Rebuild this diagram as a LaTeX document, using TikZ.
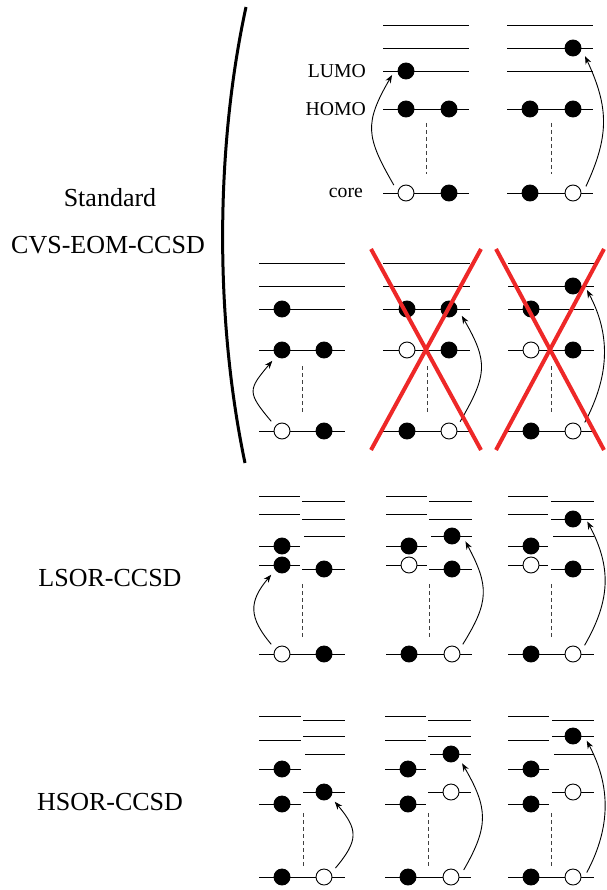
\documentclass[tikz,border=0pt]{standalone}
\usepackage{fontspec}
\setmainfont{Liberation Serif}
\usetikzlibrary{arrows.meta}
\definecolor{xred}{RGB}{238,40,40}
\begin{document}
\begin{tikzpicture}[x=1pt,y=1pt]
        \tikzset{el/.style={circle,draw=black,fill=black,line width=0.9pt,minimum size=16pt,inner sep=0pt,outer sep=6.5pt},
          ho/.style={el,fill=white},
          lv/.style={black,line width=0.9pt},
          dsh/.style={black!75,line width=0.8pt,dash pattern=on 4pt off 3pt},
          ex/.style={-{Stealth[length=8pt,width=6pt]},line width=0.9pt},
          xout/.style={xred,line width=4pt},
          lab/.style={inner sep=0pt,font=\fontsize{26}{30}\selectfont},
          slab/.style={inner sep=0pt,anchor=east,font=\fontsize{19.7}{22}\selectfont}}
        \useasboundingbox (0,0) rectangle (606,-890);
        % labels and bracket
        \node[lab] (std) at (110,-198) {Standard};
        \node[lab] (cvs) at (108,-245) {CVS-EOM-CCSD};
        \node[lab] (lsor) at (110,-578) {LSOR-CCSD};
        \node[lab] (hsor) at (110,-802) {HSOR-CCSD};
        \draw [black,line width=3pt] (246,-7) .. controls (215,-150) and (215,-320) .. (245,-463);
        \node[slab] (lumo) at (366,-71) {LUMO};
        \node[slab] (homo) at (366,-109) {HOMO};
        \node[slab] (core) at (363,-193) {core};
        % standard, row 1
        \draw [lv] (383,-25) -- (469,-25);
        \draw [lv] (383,-48) -- (469,-48);
        \draw [lv] (383,-71) -- (469,-71);
        \draw [lv] (383,-109) -- (469,-109);
        \draw [lv] (383,-193) -- (469,-193);
        \draw [dsh] (426,-123) -- (426,-174);
        \node[el] (a1) at (406,-71) {};
        \node[el] (a2) at (406,-109) {};
        \node[el] (a3) at (449,-109) {};
        \node[ho] (a4) at (406,-193) {};
        \node[el] (a5) at (449,-193) {};
        \draw [ex] (a4.147) to[out=120,in=240,looseness=1.3] (a1.196);
        \draw [lv] (507,-25) -- (593,-25);
        \draw [lv] (507,-48) -- (593,-48);
        \draw [lv] (507,-71) -- (593,-71);
        \draw [lv] (507,-109) -- (593,-109);
        \draw [lv] (507,-193) -- (593,-193);
        \draw [dsh] (551,-123) -- (551,-174);
        \node[el] (b1) at (573,-48) {};
        \node[el] (b2) at (530,-109) {};
        \node[el] (b3) at (573,-109) {};
        \node[el] (b4) at (530,-193) {};
        \node[ho] (b5) at (573,-193) {};
        \draw [ex] (b5.27) to[out=65,in=-65,looseness=1.1] (b1.-34);
        % standard, row 2
        \draw [lv] (259,-263) -- (345,-263);
        \draw [lv] (259,-286) -- (345,-286);
        \draw [lv] (259,-309) -- (345,-309);
        \draw [lv] (259,-350) -- (345,-350);
        \draw [lv] (259,-431) -- (345,-431);
        \draw [dsh] (302,-366) -- (302,-413);
        \node[el] (c1) at (282,-309) {};
        \node[el] (c2) at (282,-350) {};
        \node[el] (c3) at (324,-350) {};
        \node[ho] (c4) at (282,-431) {};
        \node[el] (c5) at (324,-431) {};
        \draw [ex] (c4.138) to[out=130,in=230,looseness=1.6] (c2.228);
        \draw [lv] (383,-263) -- (470,-263);
        \draw [lv] (383,-286) -- (470,-286);
        \draw [lv] (383,-309) -- (470,-309);
        \draw [lv] (383,-350) -- (470,-350);
        \draw [lv] (383,-431) -- (470,-431);
        \draw [dsh] (427,-366) -- (427,-413);
        \node[el] (d1) at (407,-309) {};
        \node[el] (d2) at (449,-309) {};
        \node[ho] (d3) at (407,-350) {};
        \node[el] (d4) at (449,-350) {};
        \node[el] (d5) at (407,-431) {};
        \node[ho] (d6) at (449,-431) {};
        \draw [ex] (d6.40) to[out=60,in=-60,looseness=1.3] (d2.-28);
        \draw [lv] (508,-263) -- (594,-263);
        \draw [lv] (508,-286) -- (594,-286);
        \draw [lv] (508,-309) -- (594,-309);
        \draw [lv] (508,-350) -- (594,-350);
        \draw [lv] (508,-431) -- (594,-431);
        \draw [dsh] (551,-366) -- (551,-413);
        \node[el] (e1) at (573,-286) {};
        \node[el] (e2) at (531,-309) {};
        \node[ho] (e3) at (531,-350) {};
        \node[el] (e4) at (573,-350) {};
        \node[el] (e5) at (531,-431) {};
        \node[ho] (e6) at (573,-431) {};
        \draw [ex] (e6.36) to[out=62,in=-62] (e1.-16);
        \draw [xout] (371,-249) -- (481,-450);
        \draw [xout] (481,-249) -- (371,-450);
        \draw [xout] (496,-249) -- (604,-450);
        \draw [xout] (604,-249) -- (496,-450);
        % LSOR
        \draw [lv] (259,-496) -- (300,-496);
        \draw [lv] (259,-514) -- (300,-514);
        \draw [lv] (259,-546) -- (300,-546);
        \draw [lv] (259,-565) -- (300,-565);
        \draw [lv] (302,-501) -- (345,-501);
        \draw [lv] (302,-519) -- (345,-519);
        \draw [lv] (304,-536) -- (345,-536);
        \draw [lv] (302,-569) -- (345,-569);
        \draw [lv] (259,-654) -- (345,-654);
        \draw [dsh] (302,-584) -- (302,-638);
        \node[el] (f1) at (282,-546) {};
        \node[el] (f2) at (282,-565) {};
        \node[el] (f3) at (324,-569) {};
        \node[ho] (f4) at (282,-654) {};
        \node[el] (f5) at (324,-654) {};
        \draw [ex] (f4.138) to[out=130,in=230,looseness=1.3] (f2.222);
        \draw [lv] (386,-496) -- (427,-496);
        \draw [lv] (386,-514) -- (427,-514);
        \draw [lv] (386,-546) -- (427,-546);
        \draw [lv] (386,-565) -- (427,-565);
        \draw [lv] (429,-501) -- (472,-501);
        \draw [lv] (429,-519) -- (472,-519);
        \draw [lv] (431,-536) -- (472,-536);
        \draw [lv] (429,-569) -- (472,-569);
        \draw [lv] (386,-654) -- (472,-654);
        \draw [dsh] (429,-584) -- (429,-638);
        \node[el] (g1) at (409,-546) {};
        \node[ho] (g2) at (409,-565) {};
        \node[el] (g3) at (452,-536) {};
        \node[el] (g4) at (452,-569) {};
        \node[el] (g5) at (409,-654) {};
        \node[ho] (g6) at (452,-654) {};
        \draw [ex] (g6.42) to[out=58,in=-62,looseness=1.25] (g3.-22);
        \draw [lv] (508,-496) -- (548,-496);
        \draw [lv] (508,-514) -- (548,-514);
        \draw [lv] (508,-546) -- (548,-546);
        \draw [lv] (508,-565) -- (548,-565);
        \draw [lv] (551,-501) -- (594,-501);
        \draw [lv] (551,-519) -- (594,-519);
        \draw [lv] (553,-536) -- (594,-536);
        \draw [lv] (551,-569) -- (594,-569);
        \draw [lv] (508,-654) -- (594,-654);
        \draw [dsh] (551,-584) -- (551,-638);
        \node[el] (h1) at (531,-546) {};
        \node[ho] (h2) at (531,-565) {};
        \node[el] (h3) at (573,-519) {};
        \node[el] (h4) at (573,-569) {};
        \node[el] (h5) at (531,-654) {};
        \node[ho] (h6) at (573,-654) {};
        \draw [ex] (h6.37) to[out=60,in=-62,looseness=1.07] (h3.-10);
        % HSOR
        \draw [lv] (259,-716) -- (301,-716);
        \draw [lv] (259,-740) -- (301,-740);
        \draw [lv] (259,-769) -- (301,-769);
        \draw [lv] (259,-804) -- (301,-804);
        \draw [lv] (303,-720) -- (345,-720);
        \draw [lv] (303,-736) -- (345,-736);
        \draw [lv] (305,-754) -- (345,-754);
        \draw [lv] (303,-792) -- (345,-792);
        \draw [lv] (259,-877) -- (345,-877);
        \draw [dsh] (303,-813) -- (303,-866);
        \node[el] (i1) at (282,-769) {};
        \node[el] (i2) at (282,-804) {};
        \node[el] (i3) at (324,-792) {};
        \node[el] (i4) at (282,-877) {};
        \node[ho] (i5) at (324,-877) {};
        \draw [ex] (i5.38) to[out=50,in=-50,looseness=1.4] (i3.-42);
        \draw [lv] (385,-716) -- (426,-716);
        \draw [lv] (385,-740) -- (426,-740);
        \draw [lv] (385,-769) -- (426,-769);
        \draw [lv] (385,-804) -- (426,-804);
        \draw [lv] (428,-720) -- (471,-720);
        \draw [lv] (428,-736) -- (471,-736);
        \draw [lv] (430,-754) -- (471,-754);
        \draw [lv] (428,-792) -- (471,-792);
        \draw [lv] (385,-877) -- (471,-877);
        \draw [dsh] (428,-813) -- (428,-866);
        \node[el] (j1) at (408,-769) {};
        \node[el] (j2) at (408,-804) {};
        \node[el] (j3) at (451,-754) {};
        \node[ho] (j4) at (451,-792) {};
        \node[el] (j5) at (408,-877) {};
        \node[ho] (j6) at (451,-877) {};
        \draw [ex] (j6.29) to[out=60,in=-60,looseness=1.23] (j3.-40);
        \draw [lv] (508,-716) -- (549,-716);
        \draw [lv] (508,-740) -- (549,-740);
        \draw [lv] (508,-769) -- (549,-769);
        \draw [lv] (508,-804) -- (549,-804);
        \draw [lv] (552,-720) -- (594,-720);
        \draw [lv] (552,-736) -- (594,-736);
        \draw [lv] (554,-754) -- (594,-754);
        \draw [lv] (552,-792) -- (594,-792);
        \draw [lv] (508,-877) -- (594,-877);
        \draw [dsh] (551,-813) -- (551,-866);
        \node[el] (k1) at (531,-769) {};
        \node[el] (k2) at (531,-804) {};
        \node[el] (k3) at (573,-736) {};
        \node[ho] (k4) at (573,-792) {};
        \node[el] (k5) at (531,-877) {};
        \node[ho] (k6) at (573,-877) {};
        \draw [ex] (k6.18) to[out=62,in=-62] (k3.-19);
\end{tikzpicture}
\end{document}
